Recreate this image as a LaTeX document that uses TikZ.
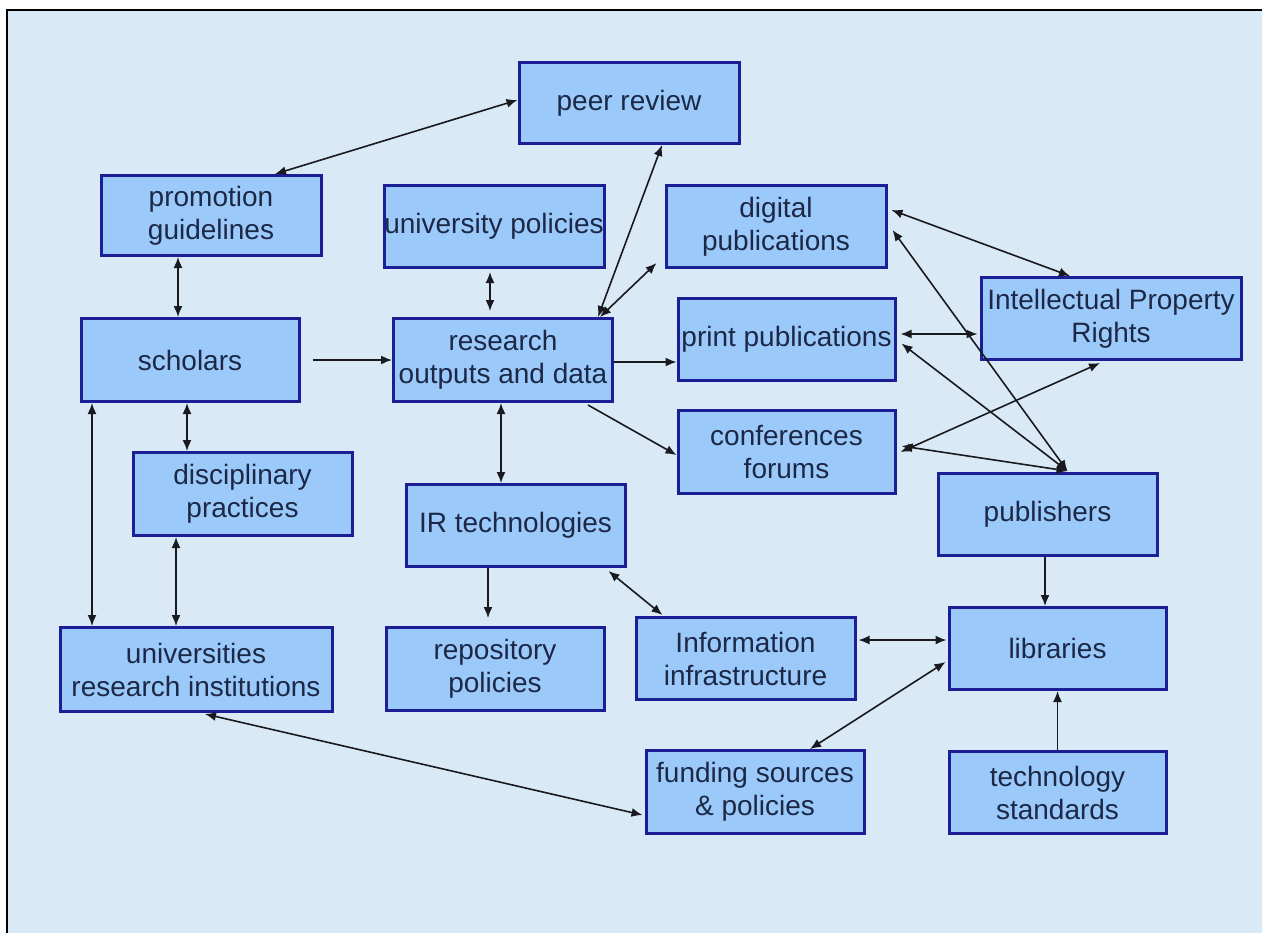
\documentclass[tikz,border=0pt]{standalone}
\usepackage{fontspec}
\setmainfont{Liberation Sans}
\usetikzlibrary{arrows.meta,calc}
\definecolor{bg}{RGB}{217,234,246}
\definecolor{boxfill}{RGB}{155,202,250}
\definecolor{boxline}{RGB}{28,30,150}
\definecolor{txt}{RGB}{28,40,70}
\definecolor{arr}{RGB}{25,25,30}
\begin{document}
\begin{tikzpicture}[x=0.5pt,y=-0.5pt,
  box/.style={draw=boxline, fill=boxfill, line width=1.5pt, text=txt, align=center, inner sep=0pt, font=\fontsize{14pt}{16.5pt}\selectfont},
  link/.style={draw=arr, line width=0.8pt},
  one/.style={link, -{Latex[length=5.5pt,width=4.5pt]}},
  two/.style={link, {Latex[length=5.5pt,width=4.5pt]}-{Latex[length=5.5pt,width=4.5pt]}},
]
\useasboundingbox (0,0) rectangle (1262,933);
\fill[white] (0,0) rectangle (1262,933);
\fill[bg] (7,10) rectangle (1262,933);
\draw[line width=1pt] (7,933) -- (7,10) -- (1262,10);

\node[box, minimum width=110pt, minimum height=40.5pt] (peer) at (629,103) {peer review};
\node[box, minimum width=110pt, minimum height=40pt] (promo) at (211,215.5) {promotion\\guidelines};
\node[box, minimum width=110pt, minimum height=41pt] (univpol) at (494,226.5) {university policies};
\node[box, minimum width=110pt, minimum height=41pt] (digital) at (776,226.5) {digital\\publications};
\node[box, minimum width=130pt, minimum height=41pt] (ipr) at (1111,318.5) {Intellectual Property\\Rights};
\node[box, minimum width=109pt, minimum height=41.5pt] (scholars) at (190,360) {scholars};
\node[box, minimum width=109.5pt, minimum height=41.5pt] (research) at (503,360) {research\\outputs and data};
\node[box, minimum width=108.5pt, minimum height=41pt] (print) at (786.5,339.5) {print publications};
\node[box, minimum width=108.5pt, minimum height=41.5pt] (conf) at (786.5,452) {conferences\\forums};
\node[box, minimum width=109.5pt, minimum height=41.5pt] (disc) at (242.5,494) {disciplinary\\practices};
\node[box, minimum width=109.5pt, minimum height=41pt] (irtech) at (515.5,525.5) {IR technologies};
\node[box, minimum width=109.5pt, minimum height=41pt] (publishers) at (1047.5,514.5) {publishers};
\node[box, minimum width=109pt, minimum height=41.5pt] (repo) at (495,669) {repository\\policies};
\node[box, minimum width=109.5pt, minimum height=41pt] (info) at (745.5,658.5) {Information\\infrastructure};
\node[box, minimum width=108.5pt, minimum height=41pt] (libraries) at (1057.5,648.5) {libraries};
\node[box, minimum width=136pt, minimum height=42pt] (univ) at (196,669.5) {universities\\research institutions};
\node[box, minimum width=109pt, minimum height=41.5pt] (funding) at (755,792) {funding sources\\\& policies};
\node[box, minimum width=108.5pt, minimum height=41pt] (techstd) at (1057.5,792.5) {technology\\standards};

\draw[two] ($(peer.west)+(0,-3)$) -- ($(promo.north)+(64,0)$);
\draw[two] ($(promo.south)+(-33,0)$) -- ($(scholars.north)+(-12,0)$);
\draw[two, shorten <=1.5pt, shorten >=3pt] ($(univpol.south)+(-4,0)$) -- ($(research.north)+(-13,0)$);
\draw[two] ($(research.north)+(95,0)$) -- ($(peer.south)+(33,0)$);
\draw[two] ($(research.north)+(97,0)$) -- ($(digital.south west)+(-8,-6)$);
\draw[one, shorten <=6pt] (scholars.east) -- (research.west);
\draw[one] ($(research.east)+(0,2)$) -- ($(print.west)+(0,22.5)$);
\draw[one] ($(research.south)+(85,2)$) -- ($(conf.west)+(0,3)$);
\draw[two] ($(research.south)+(-2,0)$) -- ($(irtech.north)+(-14.5,0)$);
\draw[two] ($(scholars.south)+(-98,0)$) -- ($(univ.north)+(-104,0)$);
\draw[two] ($(scholars.south)+(-3,0)$) -- ($(disc.north)+(-55.5,0)$);
\draw[two] ($(disc.south)+(-66.5,0)$) -- ($(univ.north)+(-20,0)$);
\draw[one, shorten >=4pt] ($(irtech.south)+(-27.5,0)$) -- ($(repo.north)+(-7,0)$);
\draw[two] ($(irtech.south east)+(-18,3)$) -- ($(info.north west)+(28,-1)$);
\draw[two] ($(info.east)+(2,-18.5)$) -- ($(libraries.west)+(-1,-8.5)$);
\draw[two] ($(libraries.west)+(-2,13.5)$) -- ($(funding.north)+(55,0)$);
\draw[two] ($(univ.south)+(9,1)$) -- ($(funding.west)+(-2,23)$);
\draw[one] (techstd.north) -- (libraries.south);
\draw[one] ($(publishers.south)+(-2.5,0)$) -- ($(libraries.north)+(-12.5,0)$);
\draw[two] ($(digital.east)+(4,-16.5)$) -- ($(ipr.north)+(-41,0)$);
\draw[two] ($(ipr.west)+(-2,15.5)$) -- ($(print.east)+(4,-5.5)$);
\draw[two] ($(publishers.north)+(20,-1)$) -- ($(digital.east)+(5,3.5)$);
\draw[two] ($(publishers.north)+(20,-1)$) -- ($(print.east)+(5,4)$);
\draw[two] ($(publishers.north)+(20,-1)$) -- ($(conf.east)+(5,-6)$);
\draw[two] ($(conf.east)+(4,0)$) -- ($(ipr.south)+(-11,2)$);
\end{tikzpicture}
\end{document}
